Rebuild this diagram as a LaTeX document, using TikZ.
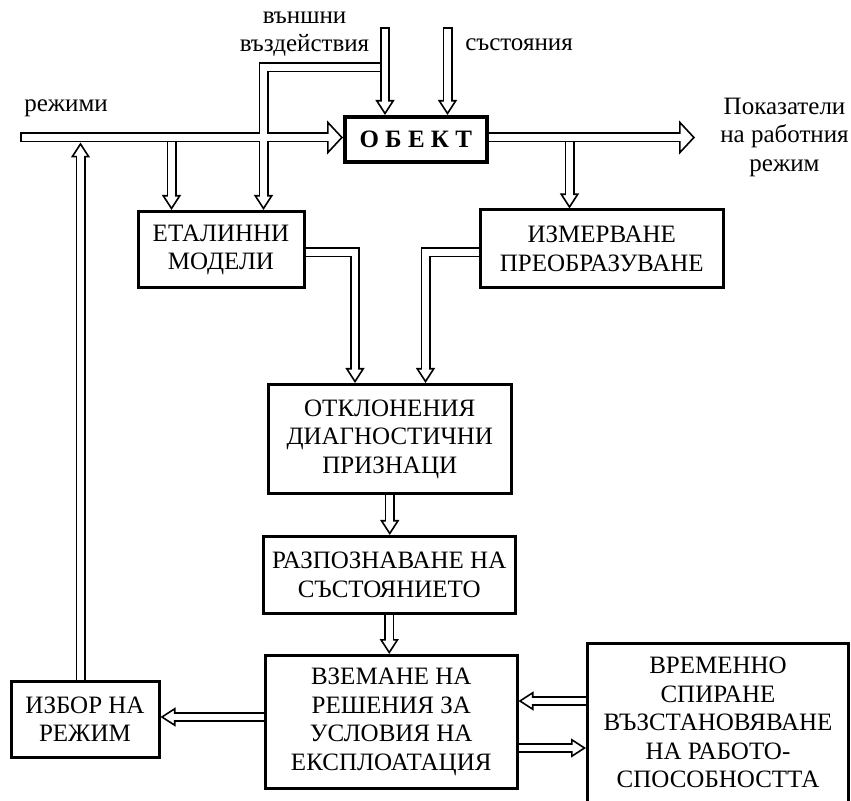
\documentclass[tikz,border=0pt]{standalone}
\usepackage{fontspec}
\setmainfont{Liberation Serif}
\usetikzlibrary{arrows.meta}

\newcommand\diagfont{\fontsize{12.5pt}{14.25pt}\selectfont}

% hollow connectors, drawn twice: black outline, then white core
\newcommand\links{%
  \draw[bigtip, capped] (rin) -- (rin -| obj.west);
  \draw[bigtip] (obj.east |- rout) -- (rout);
  \draw[smalltip, capped] (vin) -- (vin |- obj.north);
  \draw[smalltip, capped] (sin) -- (sin |- obj.north);
  \draw[smalltip] (vbr) -- (vbend) -- (vbend |- etal.north);
  \draw[smalltip] (mb1) -- (mb1 |- etal.north);
  \draw[smalltip] (mb2) -- (mb2 |- izm.north);
  \draw[smalltip] (mb3 |- izbor.north) -- (mb3);
  \draw[smalltip] (etal.east |- elbL) -- (elbL) -- (elbL |- otkl.north);
  \draw[smalltip] (izm.west |- elbR) -- (elbR) -- (elbR |- otkl.north);
  \draw[smalltip] (otkl.south) -- (otkl.south |- razp.north);
  \draw[smalltip] (razp.south) -- (razp.south |- vzem.north);
  \draw[smalltip] ([yshift=2.5pt]vzem.west) -- ([yshift=2.5pt]vzem.west -| izbor.east);
  \draw[smalltip] ([yshift=10.5pt]vzem.east -| vrem.west) -- ([yshift=10.5pt]vzem.east);
  \draw[smalltip] ([yshift=-13pt]vzem.east) -- ([yshift=-13pt]vzem.east -| vrem.west);
}

\begin{document}
\begin{tikzpicture}[x=0.5pt, y=-0.5pt,
    box/.style={draw, line width=1.5pt, align=center, inner sep=0pt, font=\diagfont},
    lbl/.style={align=center, inner sep=0pt, font=\diagfont}
]
\useasboundingbox (0,0) rectangle (851,801);

% Blocks
\node[box, line width=2pt, minimum width=70.75pt, minimum height=22.5pt, font=\diagfont\bfseries] (obj) at (415.75,139.5) {О Б Е К Т};
\node[box, minimum width=83pt, minimum height=38.25pt] (etal) at (221,249.75) {ЕТАЛИННИ\\МОДЕЛИ};
\node[box, minimum width=121.75pt, minimum height=39pt] (izm) at (601.75,249) {ИЗМЕРВАНЕ\\ПРЕОБРАЗУВАНЕ};
\node[box, minimum width=121.25pt, minimum height=54.5pt] (otkl) at (389.75,439) {ОТКЛОНЕНИЯ\\ДИАГНОСТИЧНИ\\ПРИЗНАЦИ};
\node[box, minimum width=126.25pt, minimum height=38.5pt] (razp) at (389.25,575) {РАЗПОЗНАВАНЕ НА\\СЪСТОЯНИЕТО};
\node[box, minimum width=125.75pt, minimum height=66.5pt] (vzem) at (391.25,722) {ВЗЕМАНЕ НА\\РЕШЕНИЯ ЗА\\УСЛОВИЯ НА\\ЕКСПЛОАТАЦИЯ};
\node[box, minimum width=74pt, minimum height=38.25pt] (izbor) at (85,719.25) {ИЗБОР НА\\РЕЖИМ};
\node[box, anchor=north west, minimum width=130.3pt, minimum height=85pt] (vrem) at (586,642) {};
\node[lbl] (vremtxt) at (718,722.5) {ВРЕМЕННО\\СПИРАНЕ\\ВЪЗСТАНОВЯВАНЕ\\НА РАБОТО-\\СПОСОБНОСТТА};

% Labels
\node[lbl, anchor=base] (rezh) at (66,112) {режими};
\node[lbl] (vazd) at (304.5,34) {външни\\въздействия};
\node[lbl, anchor=base] (sast) at (519,51) {състояния};
\node[lbl] (pokaz) at (784.5,137) {Показатели\\на работния\\режим};

% Free ends and bends
\coordinate (rin) at (22,137.5);
\coordinate (rout) at (695,137.5);
\coordinate (vin) at (385,29);
\coordinate (sin) at (447.5,29);
\coordinate (vbr) at (380,67.5);
\coordinate (vbend) at (263.5,67.5);
\coordinate (mb1) at (171.5,142.5);
\coordinate (mb2) at (569.5,142.5);
\coordinate (mb3) at (80.5,142.5);
\coordinate (elbL) at (355,252.5);
\coordinate (elbR) at (425.5,252.5);

% Connectors
\begin{scope}[line width=5pt,
    bigtip/.style={-{Triangle[length=8pt, width=17pt, fill=white, line width=0.8pt]}},
    smalltip/.style={-{Triangle[length=7.5pt, width=9.5pt, fill=white, line width=0.8pt]}},
    capped/.style={shorten <=-0.8pt}]
  \links
\end{scope}
\begin{scope}[line width=3.4pt, white,
    bigtip/.style={shorten >=6.8pt}, smalltip/.style={shorten >=6.3pt}, capped/.style={}]
  \links
\end{scope}

\end{tikzpicture}
\end{document}
